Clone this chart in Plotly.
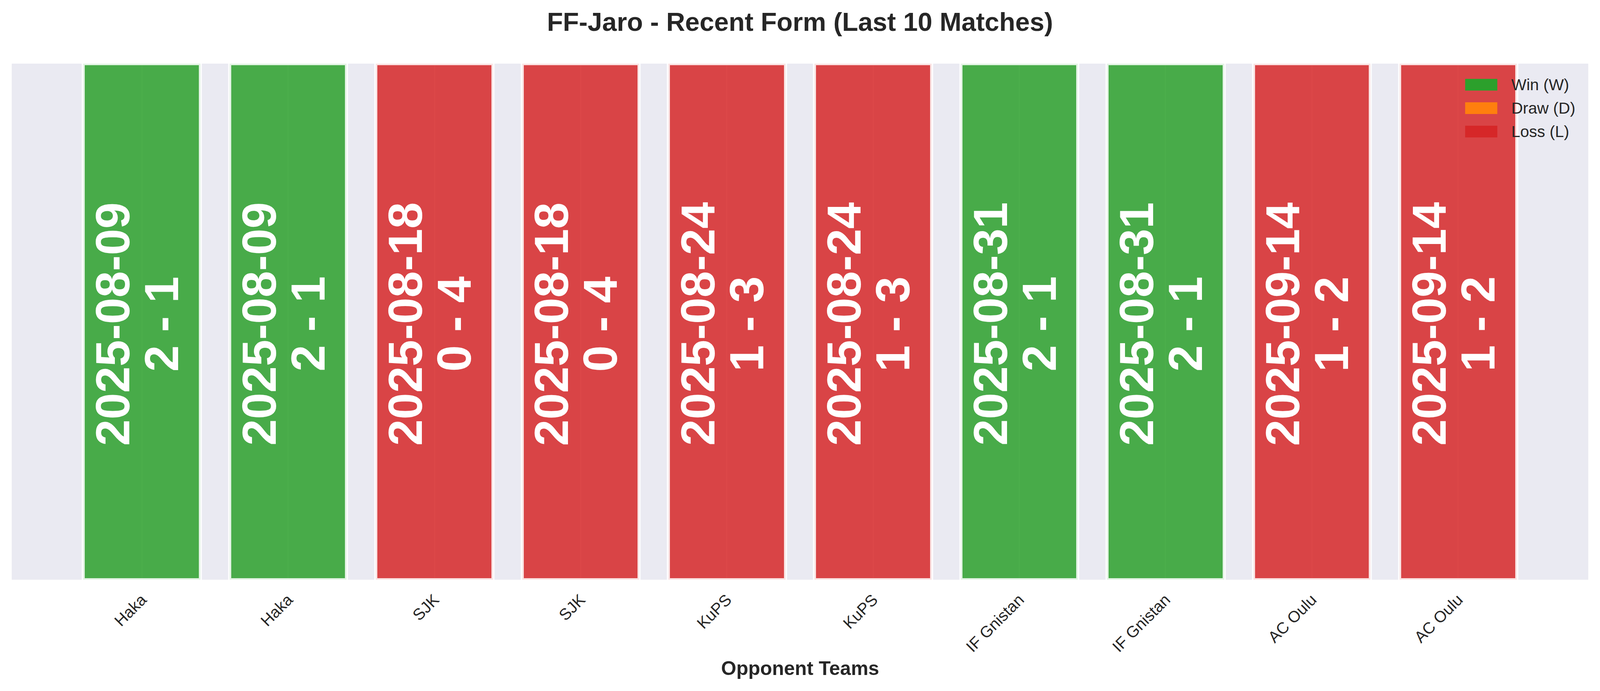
import plotly.graph_objects as go

# last 10 matches, oldest first
opponents = ["Haka", "Haka", "SJK", "SJK", "KuPS", "KuPS",
             "IF Gnistan", "IF Gnistan", "AC Oulu", "AC Oulu"]
match_dates = ["2025-08-09", "2025-08-09", "2025-08-18", "2025-08-18",
               "2025-08-24", "2025-08-24", "2025-08-31", "2025-08-31",
               "2025-09-14", "2025-09-14"]
scores = ["2 - 1", "2 - 1", "0 - 4", "0 - 4", "1 - 3", "1 - 3",
          "2 - 1", "2 - 1", "1 - 2", "1 - 2"]
results = ["W", "W", "L", "L", "L", "L", "W", "W", "L", "L"]
bar_values = [1, 1, 1, 1, 1, 1, 1, 1, 1, 1]

legend_labels = ["Win (W)", "Draw (D)", "Loss (L)"]
legend_keys = ["W", "D", "L"]

result_rgb = {"W": (44, 160, 44), "D": (255, 127, 14), "L": (214, 39, 40)}
FONT = "Liberation Sans, Arial, sans-serif"
TEXT_COLOR = "#262626"

x_pos = list(range(len(opponents)))
fill_colors = ["rgba(%d,%d,%d,0.85)" % result_rgb[r] for r in results]

fig = go.Figure()
fig.add_trace(go.Bar(
    x=x_pos, y=bar_values, width=0.8,
    marker=dict(color=fill_colors,
                line=dict(color="rgba(255,255,255,0.85)", width=8)),
    showlegend=False, hoverinfo="skip",
))

# two text lines per bar, rotated
for i in x_pos:
    fig.add_annotation(x=i, y=0.5, xref="x", yref="y", text=match_dates[i],
                       textangle=-90, showarrow=False, xshift=-74, yshift=-6,
                       font=dict(family=FONT, size=122, color="white", weight="bold"))
    fig.add_annotation(x=i, y=0.5, xref="x", yref="y", text=scores[i],
                       textangle=-90, showarrow=False, xshift=51, yshift=-6,
                       font=dict(family=FONT, size=122, color="white", weight="bold"))

# legend drawn by hand so the patches match the original size
for k, (lab, key) in enumerate(zip(legend_labels, legend_keys)):
    top = 0.9705 - k * 0.0454
    fig.add_shape(type="rect", xref="paper", yref="paper",
                  x0=0.9219, x1=0.9423, y0=top - 0.0227, y1=top,
                  fillcolor="rgb(%d,%d,%d)" % result_rgb[key], line=dict(width=0))
    fig.add_annotation(x=0.9506, y=top - 0.0114, xref="paper", yref="paper",
                       text=lab, showarrow=False, xanchor="left", yanchor="middle",
                       font=dict(family=FONT, size=41, color=TEXT_COLOR))

fig.add_annotation(x=0.5, y=-0.1717, xref="paper", yref="paper",
                   text="<b>Opponent Teams</b>", showarrow=False,
                   xanchor="center", yanchor="middle",
                   font=dict(family=FONT, size=50, color=TEXT_COLOR))

# size follows the browser window (the viewport turned out narrower than 4170)
fig.update_layout(
    autosize=True,
    margin=dict(l=30, r=30, t=163, b=285),
    paper_bgcolor="white", plot_bgcolor="#EAEAF2",
    title=dict(text="<b>FF-Jaro - Recent Form (Last 10 Matches)</b>",
               x=0.5, xanchor="center", y=1 - 56 / 1770, yanchor="middle",
               font=dict(family=FONT, size=67, color=TEXT_COLOR)),
    bargap=0,
)
fig.update_xaxes(range=[-0.89, 9.89], tickvals=x_pos, ticktext=opponents,
                 tickangle=-45, showgrid=True, gridcolor="white", gridwidth=3,
                 zeroline=False, showline=False, ticks="outside", ticklen=10,
                 tickcolor="rgba(0,0,0,0)",
                 tickfont=dict(family=FONT, size=41, color=TEXT_COLOR))
fig.update_yaxes(range=[0, 1], showticklabels=False, showgrid=False,
                 zeroline=False, showline=False)

fig.write_html("out.html", default_width="100vw", default_height="100vh",
               config={"displayModeBar": False, "responsive": True},
               post_script="document.body.style.margin='0';")
